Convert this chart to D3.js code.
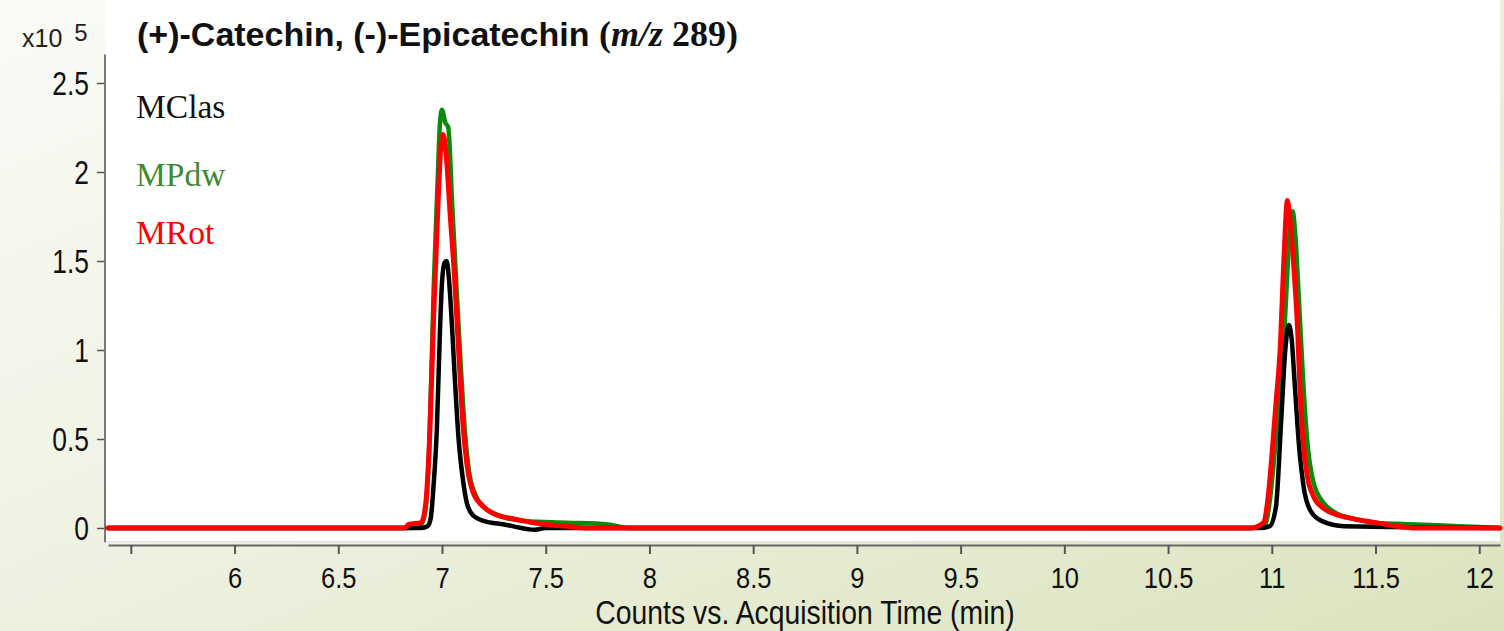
<!DOCTYPE html>
<html>
<head>
<meta charset="utf-8">
<script src="https://cdn.jsdelivr.net/npm/d3@7"></script>
<style>
  body { margin: 0; padding: 0; overflow: hidden; }
  svg { display: block; }
</style>
</head>
<body>
<svg id="chart" width="1504" height="631"></svg>
<script>
// chromatogram traces, counts in units of x10^5
// [time (min), counts]
var mclas = [
  [5.39, 0], [6.9, 0], [6.93, 0.01], [6.945, 0.05], [6.96, 0.25], [6.975, 0.55],
  [6.99, 1.1], [7.0, 1.38], [7.012, 1.49], [7.022, 1.5], [7.032, 1.42], [7.045, 1.2],
  [7.06, 0.88], [7.08, 0.5], [7.1, 0.28], [7.12, 0.14], [7.15, 0.07], [7.2, 0.04],
  [7.3, 0.02], [7.45, -0.01], [7.5, 0], [10.95, 0], [10.99, 0.01], [11.02, 0.12],
  [11.045, 0.6], [11.065, 1.0], [11.082, 1.14], [11.095, 1.07], [11.11, 0.82],
  [11.13, 0.48], [11.155, 0.22], [11.19, 0.09], [11.24, 0.04], [11.35, 0.01], [12.1, 0]
];
var mpdw = [
  [5.39, 0], [6.85, 0], [6.9, 0.02], [6.92, 0.1], [6.94, 0.5], [6.96, 1.35],
  [6.98, 1.98], [6.99, 2.27], [7.0, 2.35], [7.015, 2.28], [7.03, 2.25], [7.05, 1.8],
  [7.07, 1.35], [7.09, 0.92], [7.11, 0.55], [7.13, 0.32], [7.16, 0.19], [7.2, 0.12],
  [7.3, 0.06], [7.4, 0.04], [7.6, 0.03], [7.8, 0.02], [7.9, 0], [10.9, 0],
  [10.97, 0.02], [10.99, 0.15], [11.02, 0.5], [11.05, 0.88], [11.07, 1.32],
  [11.085, 1.65], [11.1, 1.78], [11.115, 1.62], [11.13, 1.3], [11.15, 0.85],
  [11.17, 0.5], [11.2, 0.26], [11.25, 0.14], [11.3, 0.09], [11.4, 0.05],
  [11.5, 0.03], [11.7, 0.02], [11.9, 0.01], [12.1, 0]
];
var mrot = [
  [5.39, 0], [6.82, 0], [6.84, 0.02], [6.9, 0.03], [6.92, 0.12], [6.94, 0.5],
  [6.96, 1.2], [6.98, 1.8], [6.995, 2.15], [7.005, 2.21], [7.02, 2.1], [7.04, 1.75],
  [7.06, 1.42], [7.08, 1.0], [7.1, 0.6], [7.12, 0.36], [7.15, 0.2], [7.2, 0.12],
  [7.25, 0.08], [7.35, 0.05], [7.5, 0.02], [7.6, 0.01], [7.7, 0], [10.9, 0],
  [10.96, 0.03], [10.98, 0.15], [11.0, 0.4], [11.02, 0.7], [11.04, 1.0],
  [11.06, 1.55], [11.075, 1.84], [11.09, 1.7], [11.11, 1.4], [11.125, 1.1],
  [11.135, 0.8], [11.15, 0.5], [11.17, 0.3], [11.2, 0.18], [11.25, 0.11],
  [11.3, 0.08], [11.4, 0.05], [11.5, 0.03], [11.6, 0.01], [11.7, 0], [12.1, 0]
];

var seriesNames = ["MClas", "MPdw", "MRot"];
var seriesColors = ["#000000", "#0b8a0b", "#ff0000"];
var legendColors = ["#111111", "#3f8a33", "#ff0000"];

var xTicks = [5.5, 6, 6.5, 7, 7.5, 8, 8.5, 9, 9.5, 10, 10.5, 11, 11.5, 12];
var yTicks = [0, 0.5, 1, 1.5, 2, 2.5];

var svg = d3.select("#chart");

// soft greenish background like the slide
var defs = svg.append("defs");
var grad = defs.append("linearGradient")
  .attr("id", "bg")
  .attr("x1", 0).attr("y1", 0).attr("x2", 1).attr("y2", 1);
grad.append("stop").attr("offset", "0%").attr("stop-color", "#fafbf7");
grad.append("stop").attr("offset", "45%").attr("stop-color", "#eff2e3");
grad.append("stop").attr("offset", "100%").attr("stop-color", "#dbe3bd");

svg.append("rect").attr("width", 1504).attr("height", 631).attr("fill", "url(#bg)");

var x = d3.scaleLinear().domain([5.39, 12.1]).range([108, 1500]);
var y = d3.scaleLinear().domain([0, 2.5]).range([528, 83]);

// white plot panel
svg.append("rect")
  .attr("x", 106).attr("y", 0)
  .attr("width", 1394).attr("height", 541)
  .attr("fill", "#ffffff");
svg.append("line")
  .attr("x1", 106).attr("x2", 1500)
  .attr("y1", 541.5).attr("y2", 541.5)
  .attr("stroke", "#e2e2e2").attr("stroke-width", 1);

// axes
var xAxis = d3.axisBottom(x)
  .tickValues(xTicks)
  .tickSize(9)
  .tickSizeOuter(0)
  .tickFormat(function(d) { return d === 5.5 ? "" : d; });

var gx = svg.append("g")
  .attr("transform", "translate(0,545)")
  .call(xAxis);
gx.select(".domain").attr("stroke", "#666").attr("stroke-width", 2);
gx.selectAll(".tick line").attr("stroke", "#555").attr("stroke-width", 2);
gx.selectAll(".tick text")
  .attr("y", 43).attr("dy", 0)
  .attr("transform", "scale(0.85,1)")
  .style("font-family", "'Liberation Sans', Arial, sans-serif")
  .style("font-size", "30px")
  .attr("fill", "#111");

var yAxis = d3.axisLeft(y)
  .tickValues(yTicks)
  .tickSize(8)
  .tickFormat(function(d) { return d; });

var gy = svg.append("g")
  .attr("transform", "translate(105,0)")
  .call(yAxis);
gy.select(".domain").remove();
gy.selectAll(".tick line").attr("stroke", "#555").attr("stroke-width", 1.5);
gy.selectAll(".tick text")
  .attr("x", -20).attr("dy", "0.36em")
  .attr("transform", "scale(0.8,1)")
  .style("font-family", "'Liberation Sans', Arial, sans-serif")
  .style("font-size", "33px")
  .attr("fill", "#111");

// y axis line runs a bit past the ticks
svg.append("line")
  .attr("x1", 105).attr("x2", 105)
  .attr("y1", y(2.66)).attr("y2", y(-0.08))
  .attr("stroke", "#777").attr("stroke-width", 2);

// traces: green under, red on top
var line = d3.line()
  .curve(d3.curveMonotoneX)
  .x(function(d) { return x(d[0]); })
  .y(function(d) { return y(d[1]); });

var traces = [mpdw, mclas, mrot];
var traceColors = [seriesColors[1], seriesColors[0], seriesColors[2]];
svg.append("g")
  .selectAll("path")
  .data(traces)
  .join("path")
  .attr("d", line)
  .attr("fill", "none")
  .attr("stroke", function(d, i) { return traceColors[i]; })
  .attr("stroke-width", function(d, i) { return i === 2 ? 5 : 4.5; })
  .attr("stroke-linejoin", "round")
  .attr("stroke-linecap", "round");

// legend (plain text labels in the trace colours)
var legendY = [118, 186, 244];
svg.append("g")
  .selectAll("text")
  .data(seriesNames)
  .join("text")
  .attr("x", 136)
  .attr("y", function(d, i) { return legendY[i]; })
  .attr("fill", function(d, i) { return legendColors[i]; })
  .style("font-family", "'Liberation Serif', 'Times New Roman', serif")
  .style("font-size", "33.5px")
  .text(function(d) { return d; });

// exponent label
var expo = svg.append("text")
  .attr("x", 22).attr("y", 47)
  .style("font-family", "'Liberation Sans', Arial, sans-serif")
  .style("font-size", "25px")
  .attr("fill", "#222");
expo.append("tspan").text("x10");
expo.append("tspan").attr("dx", 12).attr("dy", -6).style("font-size", "24px").text("5");

// title
var title = svg.append("text")
  .attr("x", 137).attr("y", 46)
  .attr("fill", "#111");
title.append("tspan")
  .style("font-family", "'Liberation Sans', Arial, sans-serif")
  .style("font-weight", "bold")
  .style("font-size", "34px")
  .text("(+)-Catechin, (-)-Epicatechin ");
title.append("tspan")
  .style("font-family", "'Liberation Serif', 'Times New Roman', serif")
  .style("font-weight", "bold")
  .style("font-size", "36px")
  .text("(");
title.append("tspan")
  .style("font-family", "'Liberation Serif', 'Times New Roman', serif")
  .style("font-weight", "bold")
  .style("font-style", "italic")
  .style("font-size", "36px")
  .text("m/z");
title.append("tspan")
  .style("font-family", "'Liberation Serif', 'Times New Roman', serif")
  .style("font-weight", "bold")
  .style("font-size", "36px")
  .text(" 289)");

// x axis title
svg.append("text")
  .attr("transform", "translate(805,624) scale(0.86,1)")
  .attr("text-anchor", "middle")
  .style("font-family", "'Liberation Sans', Arial, sans-serif")
  .style("font-size", "33px")
  .attr("fill", "#111")
  .text("Counts vs. Acquisition Time (min)");
</script>
</body>
</html>
